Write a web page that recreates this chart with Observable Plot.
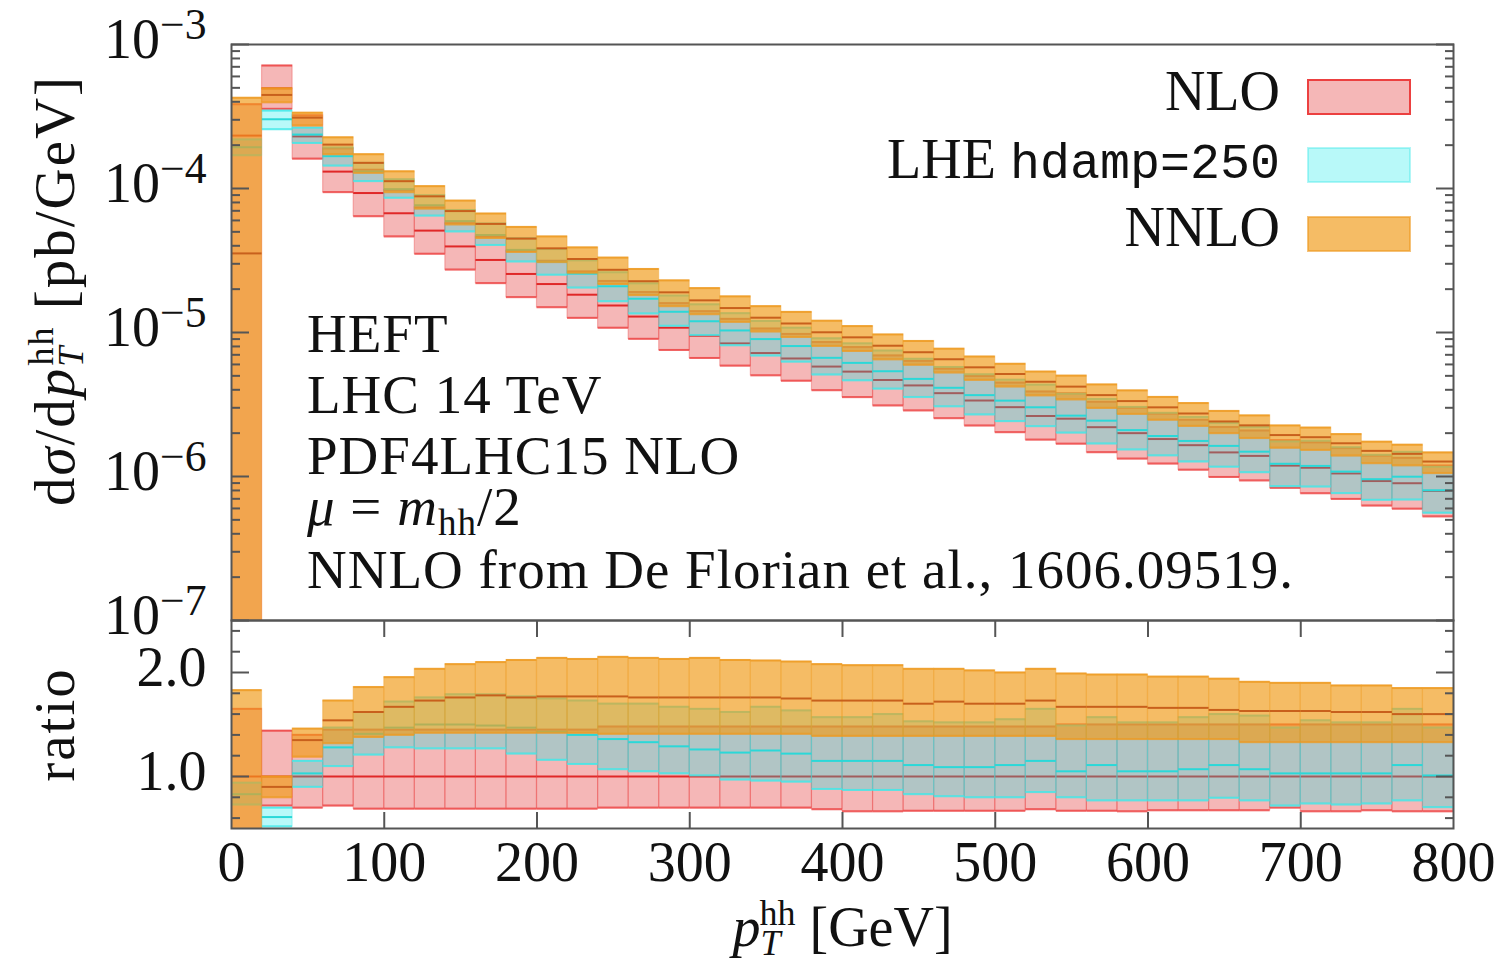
<!DOCTYPE html>
<html><head><meta charset="utf-8">
<script src="https://cdn.jsdelivr.net/npm/d3@7"></script>
<script src="https://cdn.jsdelivr.net/npm/@observablehq/plot@0.6"></script>
<style>
body{margin:0;background:#fff;}
#wrap{position:relative;width:1499px;height:969px;overflow:hidden;background:#fff;}
#wrap svg{position:absolute;left:0;}
</style></head><body><div id="wrap"></div>
<script>
// ---- data (bins of pT^hh in GeV) ----
const binLo = [0,20,40,60,80,100,120,140,160,180,200,220,240,260,280,300,320,340,360,380,400,420,440,460,480,500,520,540,560,580,600,620,640,660,680,700,720,740,760,780];
const binHi = [20,40,60,80,100,120,140,160,180,200,220,240,260,280,300,320,340,360,380,400,420,440,460,480,500,520,540,560,580,600,620,640,660,680,700,720,740,760,780,800];
// NLO central value [pb/GeV]
const nloCentral = [2.33e-4,4.96e-4,2.30e-4,1.31e-4,9.3e-5,6.73e-5,5.1e-5,3.96e-5,3.19e-5,2.55e-5,2.17e-5,1.83e-5,1.54e-5,1.29e-5,1.08e-5,9.5e-6,8.4e-6,7.2e-6,6.6e-6,5.8e-6,5.35e-6,4.68e-6,4.29e-6,3.79e-6,3.37e-6,3.03e-6,2.63e-6,2.52e-6,2.20e-6,2.0e-6,1.82e-6,1.65e-6,1.47e-6,1.39e-6,1.19e-6,1.15e-6,1.05e-6,9.3e-7,8.98e-7,7.94e-7];
// ratios to NLO central
const nloLo = [0.0001,0.72,0.70,0.72,0.69,0.69,0.69,0.69,0.69,0.69,0.69,0.69,0.70,0.70,0.70,0.70,0.70,0.70,0.70,0.685,0.665,0.665,0.67,0.67,0.67,0.67,0.685,0.67,0.67,0.665,0.675,0.675,0.675,0.675,0.70,0.665,0.665,0.675,0.665,0.665];
const nloMid = [1,1,1,1,1,1,1,1,1,1,1,1,1,1,1,1,1,1,1,1,1,1,1,1,1,1,1,1,1,1,1,1,1,1,1,1,1,1,1,1];
const nloHi = [1.65,1.44,1.40,1.45,1.45,1.45,1.45,1.45,1.45,1.45,1.45,1.45,1.48,1.48,1.48,1.48,1.48,1.48,1.48,1.48,1.48,1.48,1.48,1.48,1.48,1.48,1.48,1.50,1.50,1.50,1.50,1.50,1.50,1.50,1.50,1.50,1.50,1.50,1.50,1.50];
const lheLo = [0.73,0.52,0.90,1.10,1.21,1.28,1.27,1.27,1.27,1.22,1.16,1.12,1.07,1.05,1.03,1.01,0.97,0.96,0.95,0.88,0.87,0.87,0.83,0.81,0.80,0.80,0.85,0.80,0.77,0.77,0.77,0.77,0.795,0.77,0.72,0.74,0.73,0.74,0.77,0.705];
const lheMid = [0.83,0.61,1.03,1.28,1.41,1.47,1.50,1.50,1.49,1.47,1.43,1.40,1.36,1.33,1.29,1.26,1.23,1.25,1.22,1.15,1.15,1.15,1.11,1.09,1.09,1.11,1.15,1.05,1.11,1.05,1.05,1.07,1.11,1.07,1.03,1.03,1.03,1.03,1.11,1.01];
const lheHi = [0.94,0.70,1.15,1.47,1.62,1.72,1.76,1.79,1.79,1.77,1.75,1.73,1.70,1.70,1.67,1.65,1.62,1.67,1.635,1.57,1.57,1.60,1.53,1.52,1.52,1.55,1.65,1.49,1.57,1.52,1.52,1.57,1.60,1.585,1.47,1.54,1.52,1.52,1.65,1.47];
const nnloLo = [0.0001,0.80,1.19,1.32,1.38,1.40,1.42,1.42,1.42,1.42,1.42,1.42,1.41,1.41,1.41,1.41,1.41,1.41,1.41,1.39,1.39,1.39,1.39,1.39,1.39,1.39,1.39,1.36,1.36,1.36,1.36,1.36,1.36,1.33,1.33,1.33,1.33,1.33,1.33,1.33];
const nnloMid = [0.152,0.90,1.35,1.54,1.62,1.67,1.73,1.76,1.78,1.76,1.77,1.77,1.77,1.76,1.76,1.76,1.76,1.76,1.75,1.73,1.73,1.73,1.70,1.72,1.70,1.70,1.73,1.67,1.67,1.67,1.66,1.66,1.64,1.63,1.63,1.63,1.62,1.62,1.60,1.60];
const nnloHi = [1.83,1.00,1.46,1.73,1.86,1.955,2.035,2.08,2.10,2.12,2.14,2.13,2.15,2.14,2.13,2.14,2.12,2.115,2.105,2.08,2.07,2.07,2.035,2.035,2.02,2.00,2.035,1.99,1.98,1.98,1.96,1.96,1.94,1.91,1.90,1.90,1.875,1.875,1.85,1.85];

// ticks and labels
const xTickValues = [0,100,200,300,400,500,600,700,800];
const xInnerTicks = [100,200,300,400,500,600,700];
const yDecades = [1e-7,1e-6,1e-5,1e-4,1e-3];
const yMinorMult = [2,3,4,5,6,7,8,9];
const ratioTicks = [1.0,2.0];
const ratioMinor = [0.6,0.8,1.2,1.4,1.6,1.8,2.2,2.4];
const seriesNames = ["NLO","LHE","NNLO"];

const rows = binLo.map((lo,i)=>({lo, hi: binHi[i], c: nloCentral[i],
  NLO:[nloLo[i],nloMid[i],nloHi[i]], LHE:[lheLo[i],lheMid[i],lheHi[i]], NNLO:[nnloLo[i],nnloMid[i],nnloHi[i]]}));

const style = {
  NLO: {fill:"#e23030", fo:0.35, edge:"#ec4040", mid:"#e02828"},
  LHE: {fill:"#00e8e8", fo:0.28, edge:"#3ee8e8", mid:"#2ad8d8"},
  NNLO:{fill:"#f09c1c", fo:0.68, edge:"#ee9a20", mid:"#c8601c"}
};
const SERIF = "'Liberation Serif', 'DejaVu Serif', serif";
const FRAME = "#555";

function bandMarks(f) {
  const out = [];
  for (const s of seriesNames) {
    const st = style[s];
    out.push(Plot.rect(rows, {x1:"lo", x2:"hi", y1: d=>f(d,d[s][0]), y2: d=>f(d,d[s][2]),
      fill: st.fill, fillOpacity: st.fo, stroke: st.edge, strokeOpacity: 0.35, strokeWidth: 1.2, clip: true}));
    out.push(Plot.ruleY(rows, {x1:"lo", x2:"hi", y: d=>f(d,d[s][0]), stroke: st.edge, strokeWidth: 2, strokeOpacity: 0.8, clip: true}));
    out.push(Plot.ruleY(rows, {x1:"lo", x2:"hi", y: d=>f(d,d[s][2]), stroke: st.edge, strokeWidth: 2, strokeOpacity: 0.8, clip: true}));
    out.push(Plot.ruleY(rows, {x1:"lo", x2:"hi", y: d=>f(d,d[s][1]), stroke: st.mid, strokeWidth: 2, clip: true}));
  }
  return out;
}

const yMinor = yDecades.slice(0,-1).flatMap(d => yMinorMult.map(k => k*d));

const topSvg = Plot.plot({
  width: 1499, height: 660,
  marginLeft: 231, marginRight: 46, marginTop: 44, marginBottom: 40,
  style: {fontFamily: SERIF, fontSize: "56px", background: "transparent", overflow: "visible"},
  x: {domain: [0, 800], axis: null},
  y: {type: "log", domain: [1e-7, 1e-3]},
  marks: [
    ...bandMarks((d,v)=>d.c*v),
    Plot.frame({stroke: FRAME, strokeWidth: 2}),
    Plot.axisY({anchor:"left", ticks: yDecades, tickSize: 0, tickPadding: 25, dy: -4, label: null, fill: "#111", fontSize: 56,
      tickFormat: d => "10^" + Math.round(Math.log10(d))}),
    Plot.axisY({anchor:"left", ticks: yDecades, tickSize: 18, dx: 18, fill: "none", stroke: FRAME, strokeWidth: 2, label: null}),
    Plot.axisY({anchor:"left", ticks: yMinor, tickSize: 9, dx: 9, fill: "none", stroke: FRAME, strokeWidth: 2, label: null}),
    Plot.axisY({anchor:"right", ticks: yDecades, tickSize: 18, dx: -18, fill: "none", stroke: FRAME, strokeWidth: 2, label: null}),
    Plot.axisY({anchor:"right", ticks: yMinor, tickSize: 9, dx: -9, fill: "none", stroke: FRAME, strokeWidth: 2, label: null}),
    Plot.text(["YLABEL"], {text: d=>d, frameAnchor: "left", textAnchor: "middle", lineAnchor: "bottom", rotate: -90, dx: -158, dy: -42, fontSize: 57, fill: "#111"})
  ]
});
topSvg.style.top = "0px";

const botSvg = Plot.plot({
  width: 1499, height: 349,
  marginLeft: 231, marginRight: 46, marginTop: 0, marginBottom: 141,
  style: {fontFamily: SERIF, fontSize: "56px", background: "transparent", overflow: "visible"},
  x: {domain: [0, 800]},
  y: {domain: [0.5, 2.5]},
  marks: [
    ...bandMarks((d,v)=>v),
    Plot.frame({stroke: FRAME, strokeWidth: 2}),
    Plot.axisY({anchor:"left", ticks: ratioTicks, tickSize: 0, tickPadding: 25, dy: -4, label: null, fill: "#111", fontSize: 56, tickFormat: d3.format(".1f")}),
    Plot.axisY({anchor:"left", ticks: ratioTicks, tickSize: 18, dx: 18, fill: "none", stroke: FRAME, strokeWidth: 2, label: null}),
    Plot.axisY({anchor:"left", ticks: ratioMinor, tickSize: 9, dx: 9, fill: "none", stroke: FRAME, strokeWidth: 2, label: null}),
    Plot.axisY({anchor:"right", ticks: ratioTicks, tickSize: 18, dx: -18, fill: "none", stroke: FRAME, strokeWidth: 2, label: null}),
    Plot.axisY({anchor:"right", ticks: ratioMinor, tickSize: 9, dx: -9, fill: "none", stroke: FRAME, strokeWidth: 2, label: null}),
    Plot.axisX({anchor:"bottom", ticks: xTickValues, tickSize: 0, tickPadding: 13, label: null, fill: "#111", fontSize: 56}),
    Plot.axisX({anchor:"bottom", ticks: xInnerTicks, tickSize: 16, dy: -16, fill: "none", stroke: FRAME, strokeWidth: 2, label: null}),
    Plot.axisX({anchor:"top", ticks: xInnerTicks, tickSize: 16, dy: 16, fill: "none", stroke: FRAME, strokeWidth: 2, label: null}),
    Plot.text(["ratio"], {text: d=>d, frameAnchor: "left", textAnchor: "middle", lineAnchor: "bottom", rotate: -90, dx: -158, fontSize: 57, fill: "#111"}),
    Plot.text(["XLABEL"], {text: d=>d, frameAnchor: "bottom", textAnchor: "middle", lineAnchor: "bottom", dy: 117, fontSize: 56, fill: "#111"})
  ]
});
botSvg.style.top = "620px";

const wrap = document.getElementById("wrap");
wrap.append(topSvg, botSvg);

function fixTexts(svg) {
  svg.querySelectorAll("text").forEach(t => {
    const s = t.textContent;
    const m = s.match(/^10\^(-?\d+)$/);
    if (m) {
      t.innerHTML = `10<tspan dy="-19" font-size="0.78em">${m[1].replace("-", "\u2212")}</tspan>`;
    } else if (s === "YLABEL") {
      t.setAttribute("letter-spacing", "2");
      t.innerHTML = `d<tspan font-style="italic">σ</tspan>/d<tspan font-style="italic">p</tspan>` +
        `<tspan font-size="36" font-style="italic" dy="9">T</tspan>` +
        `<tspan font-size="36" dx="-21" dy="-30">hh</tspan>` +
        `<tspan dy="21"> [pb/GeV]</tspan>`;
    } else if (s === "ratio") {
      t.setAttribute("letter-spacing", "2");
    } else if (s === "XLABEL") {
      t.innerHTML = `<tspan font-style="italic">p</tspan>` +
        `<tspan font-size="36" font-style="italic" dy="9">T</tspan>` +
        `<tspan font-size="36" dx="-21" dy="-30">hh</tspan>` +
        `<tspan dy="21"> [GeV]</tspan>`;
    }
  });
}
fixTexts(topSvg); fixTexts(botSvg);

// legend and annotation overlay
const ns = "http://www.w3.org/2000/svg";
const ov = document.createElementNS(ns, "svg");
ov.setAttribute("width", 1499); ov.setAttribute("height", 969);
ov.style.top = "0px"; ov.style.pointerEvents = "none";
ov.setAttribute("font-family", SERIF);
ov.innerHTML = `
<g font-size="55" fill="#111" letter-spacing="1">
  <text x="307" y="352">HEFT</text>
  <text x="307" y="413">LHC 14 TeV</text>
  <text x="307" y="474">PDF4LHC15 NLO</text>
  <text x="307" y="525"><tspan font-style="italic">μ</tspan> = <tspan font-style="italic">m</tspan><tspan font-size="37" dy="10">hh</tspan><tspan dy="-10">/2</tspan></text>
  <text x="307" y="588">NNLO from De Florian et al., 1606.09519.</text>
</g>
<g font-size="56" fill="#111" text-anchor="end">
  <text x="1280" y="110">NLO</text>
  <text x="1280" y="178">LHE <tspan font-family="'Liberation Mono', 'DejaVu Sans Mono', monospace" font-size="50">hdamp=250</tspan></text>
  <text x="1280" y="246">NNLO</text>
</g>
<rect x="1308" y="80" width="102" height="34" fill="${style.NLO.fill}" fill-opacity="${style.NLO.fo}" stroke="${style.NLO.edge}" stroke-width="2"/>
<rect x="1308" y="148" width="102" height="34" fill="${style.LHE.fill}" fill-opacity="${style.LHE.fo}" stroke="${style.LHE.edge}" stroke-opacity="0.4" stroke-width="2"/>
<rect x="1308" y="217" width="102" height="34" fill="${style.NNLO.fill}" fill-opacity="${style.NNLO.fo}" stroke="${style.NNLO.edge}" stroke-opacity="0.6" stroke-width="2"/>
`;
wrap.append(ov);
</script></body></html>
